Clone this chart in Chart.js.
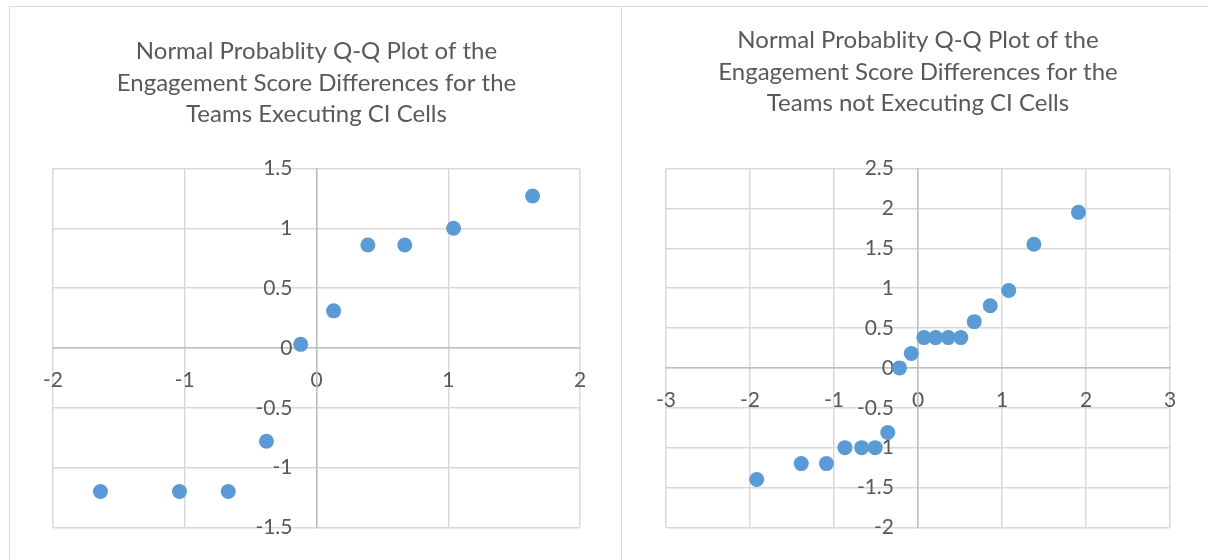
<!DOCTYPE html>
<html>
<head>
<meta charset="utf-8">
<script src="https://cdn.jsdelivr.net/npm/chart.js@4"></script>
<style>
  html, body { margin: 0; padding: 0; background: #fff; width: 1208px; height: 560px; overflow: hidden; }
  .frame { position: absolute; top: 6px; height: 600px; border-top: 1px solid #d9d9d9; border-left: 1px solid #d9d9d9; }
  canvas { position: absolute; }
</style>
</head>
<body>
<div class="frame" style="left:9px;width:612px"></div>
<div class="frame" style="left:621px;width:700px"></div>
<canvas id="leftChart" width="610" height="553" style="left:10px;top:7px"></canvas>
<canvas id="rightChart" width="592" height="553" style="left:622px;top:7px"></canvas>
<script>
// left chart: teams executing CI cells
const leftTitle = ['Normal Probablity Q-Q Plot of the', 'Engagement Score Differences for the', 'Teams Executing CI Cells'];
const leftQuantiles = [-1.64, -1.04, -0.67, -0.38, -0.12, 0.13, 0.39, 0.67, 1.04, 1.64];
const leftDiffs = [-1.2, -1.2, -1.2, -0.78, 0.03, 0.31, 0.86, 0.86, 1.0, 1.27];
const leftXTicks = [-2, -1, 0, 1, 2];
const leftYTicks = [-1.5, -1, -0.5, 0, 0.5, 1, 1.5];

// right chart: teams not executing CI cells
const rightTitle = ['Normal Probablity Q-Q Plot of the', 'Engagement Score Differences for the', 'Teams not Executing CI Cells'];
const rightQuantiles = [-1.92, -1.39, -1.09, -0.87, -0.67, -0.51, -0.36, -0.22, -0.08, 0.07, 0.21, 0.36, 0.51, 0.67, 0.86, 1.08, 1.38, 1.91];
const rightDiffs = [-1.4, -1.2, -1.2, -1.0, -1.0, -1.0, -0.81, 0, 0.18, 0.38, 0.38, 0.38, 0.38, 0.58, 0.78, 0.97, 1.55, 1.95];
const rightXTicks = [-3, -2, -1, 0, 1, 2, 3];
const rightYTicks = [-2, -1.5, -1, -0.5, 0, 0.5, 1, 1.5, 2, 2.5];

const textColor = '#595959';
const gridColor = '#d9d9d9';
const axisColor = '#bfbfbf';
const dotColor = '#5b9bd5';

// y labels of an axis crossing at x=0 sit flush on the line, move them left a bit
const yLabelGap = {
    id: 'yLabelGap',
    beforeDraw(chart) {
        const items = chart.scales.y.getLabelItems();
        if (items._moved) return;
        items.forEach(it => { it.options.translation[0] -= 24; });
        items._moved = true;
    }
};

function axis(ticks, pos) {
    return {
        type: 'linear',
        min: ticks[0],
        max: ticks[ticks.length - 1],
        position: pos,
        afterBuildTicks: s => { s.ticks = ticks.map(v => ({value: v})); },
        ticks: {
            color: textColor,
            font: {family: 'Lato', size: 21},
            padding: 20,
            callback: v => String(v)
        },
        grid: {color: gridColor, lineWidth: 1.5, drawTicks: false},
        border: {color: axisColor, width: 1.5}
    };
}

function makeChart(id, title, xs, ys, xTicks, yTicks, pad, titlePad) {
    const ctx = document.getElementById(id).getContext('2d');
    return new Chart(ctx, {
        type: 'scatter',
        data: {
            datasets: [{
                data: xs.map((x, i) => ({x: x, y: ys[i]})),
                backgroundColor: dotColor,
                borderColor: dotColor,
                pointRadius: 7.5,
                pointBorderWidth: 0,
                clip: false
            }]
        },
        options: {
            responsive: false,
            animation: false,
            layout: {padding: pad},
            plugins: {
                legend: {display: false},
                tooltip: {enabled: false},
                title: {
                    display: true,
                    text: title,
                    color: textColor,
                    font: {family: 'Lato', size: 24, weight: 'normal', lineHeight: '31.5px'},
                    padding: titlePad
                }
            },
            scales: {
                x: axis(xTicks, {y: 0}),
                y: axis(yTicks, {x: 0})
            }
        },
        plugins: [yLabelGap]
    });
}

makeChart('leftChart', leftTitle, leftQuantiles, leftDiffs, leftXTicks, leftYTicks,
    {left: 43, right: 40, top: 0, bottom: 21}, {top: 29, bottom: 38});
makeChart('rightChart', rightTitle, rightQuantiles, rightDiffs, rightXTicks, rightYTicks,
    {left: 44, right: 44, top: 0, bottom: 21}, {top: 18, bottom: 49});
</script>
</body>
</html>
